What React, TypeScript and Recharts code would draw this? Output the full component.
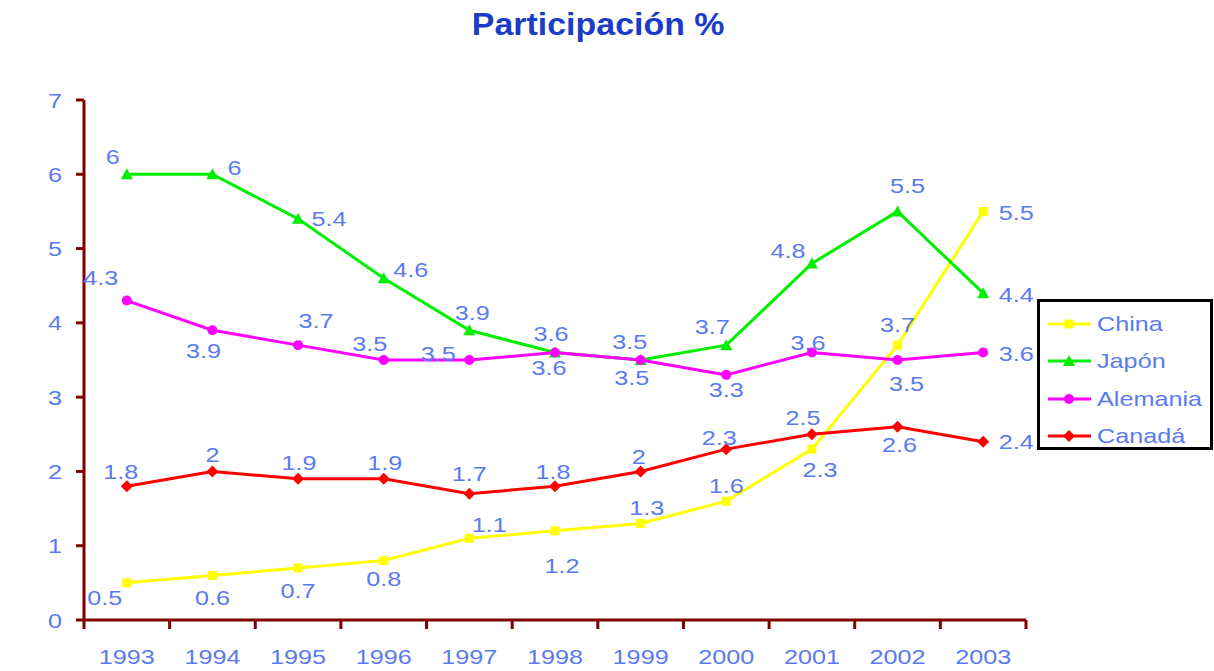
import React from 'react';
import { LineChart, Line, XAxis, YAxis, Legend } from 'recharts';

const years = ['1993', '1994', '1995', '1996', '1997', '1998', '1999', '2000', '2001', '2002', '2003'];
const china = [0.5, 0.6, 0.7, 0.8, 1.1, 1.2, 1.3, 1.6, 2.3, 3.7, 5.5];
const japon = [6, 6, 5.4, 4.6, 3.9, 3.6, 3.5, 3.7, 4.8, 5.5, 4.4];
const alemania = [4.3, 3.9, 3.7, 3.5, 3.5, 3.6, 3.5, 3.3, 3.6, 3.5, 3.6];
const canada = [1.8, 2, 1.9, 1.9, 1.7, 1.8, 2, 2.3, 2.5, 2.6, 2.4];
const yTicks = [0, 1, 2, 3, 4, 5, 6, 7];

const data = years.map((year, i) => ({
  year,
  china: china[i],
  japon: japon[i],
  alemania: alemania[i],
  canada: canada[i],
}));

// where each value label sits relative to its point (text centre)
const labelOffsets: Record<string, [number, number][]> = {
  china: [[-22, 15], [0, 22], [0, 22], [0, 18], [20, -14], [7, 35], [6, -16], [0, -16], [8, 20], [0, -21], [33, 1]],
  japon: [[-14, -18], [22, -7], [31, 0], [27, -9], [3, -18], [-4, -19], [-11, -19], [-14, -19], [-24, -13], [10, -26], [33, 1]],
  alemania: [[-26, -23], [-9, 20], [18, -25], [-14, -17], [-31, -7], [-6, 15], [-9, 17], [0, 15], [-4, -10], [9, 23], [33, 1]],
  canada: [[-6, -15], [0, -17], [1, -16], [1, -16], [0, -20], [-2, -15], [-2, -15], [-7, -12], [-9, -17], [2, 18], [33, 0]],
};

const W = 1214;
const H = 671;
const legendW = 176;
// the vertical legend on the right takes its own width out of the plot
const margin = { top: 100, right: 188 - legendW, bottom: 11, left: 0 };
const yAxisW = 84;
const plotW = 1026 - 84;
const band = plotW / years.length;

const AXIS = '#800000';
const TXT = '#5a7bf0';
const FONT = '"Liberation Sans", Arial, sans-serif';

const series = [
  { key: 'china', name: 'China', color: '#ffff00', marker: 'square' },
  { key: 'japon', name: 'Japón', color: '#00ee00', marker: 'triangle' },
  { key: 'alemania', name: 'Alemania', color: '#ff00ff', marker: 'circle' },
  { key: 'canada', name: 'Canadá', color: '#ff0000', marker: 'diamond' },
];

function Marker({ kind, cx, cy, color }: { kind: string; cx: number; cy: number; color: string }) {
  if (kind === 'square') return <rect x={cx - 4.5} y={cy - 4.5} width={9} height={9} fill={color} />;
  if (kind === 'triangle')
    return <polygon points={`${cx},${cy - 6} ${cx + 6},${cy + 5} ${cx - 6},${cy + 5}`} fill={color} />;
  if (kind === 'circle') return <circle cx={cx} cy={cy} r={5} fill={color} />;
  return <polygon points={`${cx},${cy - 6} ${cx + 6},${cy} ${cx},${cy + 6} ${cx - 6},${cy}`} fill={color} />;
}

function StretchText({ x, y, children, anchor = 'middle', size = 21 }: any) {
  return (
    <text
      transform={`translate(${x},${y}) scale(1.2,1)`}
      textAnchor={anchor}
      dy="0.36em"
      fill={TXT}
      fontSize={size}
      fontFamily={FONT}
    >
      {children}
    </text>
  );
}

const makeLabel = (key: string) => (props: any) => {
  const x = props.x ?? props.viewBox?.x;
  const y = props.y ?? props.viewBox?.y;
  const idx = props.index ?? 0;
  if (x == null || y == null) return null;
  const [dx, dy] = labelOffsets[key][idx] || [0, -16];
  return (
    <StretchText key={`lb-${key}-${idx}`} x={x + dx} y={y + dy}>
      {props.value}
    </StretchText>
  );
};

const makeDot = (s: (typeof series)[number]) => (props: any) => (
  <Marker key={`dot-${s.key}-${props.index}`} kind={s.marker} cx={props.cx} cy={props.cy} color={s.color} />
);

function XTick(props: any) {
  const { x, payload, index } = props;
  const top = H - margin.bottom - 40;
  return (
    <g>
      <line x1={x - band / 2} x2={x - band / 2} y1={top} y2={top + 9} stroke={AXIS} strokeWidth={3} />
      {index === years.length - 1 && (
        <line x1={x + band / 2} x2={x + band / 2} y1={top} y2={top + 9} stroke={AXIS} strokeWidth={3} />
      )}
      <StretchText x={x} y={656}>
        {payload.value}
      </StretchText>
    </g>
  );
}

function YTick(props: any) {
  const { y, payload } = props;
  return (
    <StretchText x={62} y={y} anchor="end">
      {payload.value}
    </StretchText>
  );
}

function LegendBox() {
  return (
    <div
      style={{
        width: legendW,
        height: 151,
        boxSizing: 'border-box',
        border: '3px solid #000',
        background: '#fff',
        paddingTop: 3,
      }}
    >
      {series.map((s) => (
        <div key={s.key} style={{ height: 37.5, display: 'flex', alignItems: 'center' }}>
          <svg width={52} height={20} style={{ marginLeft: 5 }}>
            <line x1={3} x2={46} y1={10} y2={10} stroke={s.color} strokeWidth={3} />
            <Marker kind={s.marker} cx={24} cy={10} color={s.color} />
          </svg>
          <span
            style={{
              fontFamily: FONT,
              fontSize: 21,
              color: TXT,
              display: 'inline-block',
              transform: 'scaleX(1.2)',
              transformOrigin: 'left center',
            }}
          >
            {s.name}
          </span>
        </div>
      ))}
    </div>
  );
}

export default function App() {
  return (
    <div style={{ position: 'absolute', left: 0, top: 0, width: W, height: H, background: '#fff' }}>
      <div
        style={{
          position: 'absolute',
          left: 0,
          top: 8,
          width: 1197,
          textAlign: 'center',
          fontFamily: FONT,
          fontWeight: 'bold',
          fontSize: 32,
          lineHeight: '32px',
          color: '#1b3cc6',
        }}
      >
        <span style={{ display: 'inline-block', transform: 'scaleX(1.06)' }}>Participación %</span>
      </div>
      <LineChart width={W} height={H} data={data} margin={margin}>
        <XAxis
          dataKey="year"
          height={40}
          padding={{ left: band / 2, right: band / 2 }}
          axisLine={{ stroke: AXIS, strokeWidth: 3 }}
          tickLine={false}
          tick={<XTick />}
          interval={0}
        />
        <YAxis
          width={yAxisW}
          domain={[0, 7]}
          ticks={yTicks}
          interval={0}
          axisLine={{ stroke: AXIS, strokeWidth: 3 }}
          tickLine={{ stroke: AXIS, strokeWidth: 3 }}
          tickSize={8}
          tick={<YTick />}
        />
        <Legend
          verticalAlign="top"
          align="right"
          layout="vertical"
          content={<LegendBox />}
          wrapperStyle={{ position: 'absolute', left: 1037, top: 299, width: legendW, height: 151 }}
        />
        {series.map((s) => (
          <Line
            key={s.key}
            dataKey={s.key}
            name={s.name}
            stroke={s.color}
            strokeWidth={3}
            dot={makeDot(s)}
            activeDot={false}
            label={makeLabel(s.key)}
            isAnimationActive={false}
          />
        ))}
      </LineChart>
    </div>
  );
}
